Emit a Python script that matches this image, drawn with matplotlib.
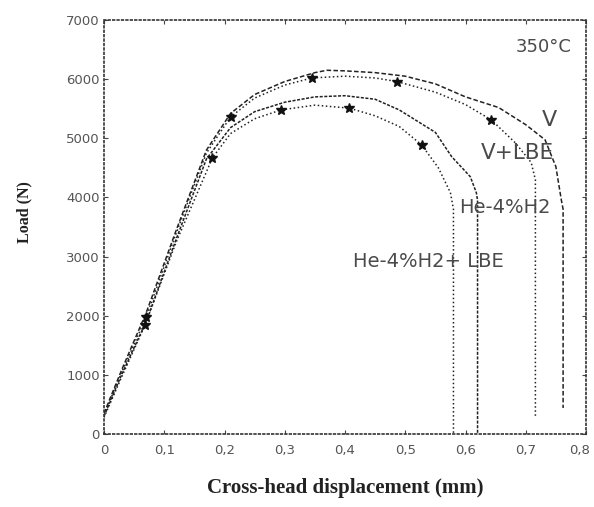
import matplotlib
matplotlib.use("Agg")
import matplotlib.pyplot as plt
import matplotlib.transforms as mtransforms

# ---- data ----
v_x = [0, 0.03, 0.07, 0.12, 0.17, 0.21, 0.25, 0.30, 0.35, 0.37, 0.40, 0.45, 0.50, 0.55, 0.60, 0.655, 0.70, 0.732, 0.750, 0.759, 0.762, 0.762]
v_y = [350, 1100, 2050, 3450, 4800, 5420, 5740, 5960, 6110, 6150, 6140, 6110, 6050, 5920, 5700, 5520, 5230, 4975, 4520, 3960, 3800, 440]

vl_x = [0, 0.03, 0.07, 0.12, 0.17, 0.21, 0.25, 0.30, 0.345, 0.40, 0.45, 0.486, 0.55, 0.60, 0.643, 0.683, 0.709, 0.716, 0.716]
vl_y = [320, 1060, 1980, 3400, 4750, 5360, 5680, 5900, 6020, 6050, 6020, 5960, 5780, 5570, 5310, 4920, 4590, 4300, 290]

he_x = [0, 0.03, 0.07, 0.12, 0.17, 0.21, 0.25, 0.30, 0.35, 0.40, 0.45, 0.49, 0.55, 0.577, 0.608, 0.618, 0.62, 0.62]
he_y = [300, 1020, 1900, 3300, 4650, 5180, 5450, 5610, 5700, 5720, 5660, 5480, 5100, 4690, 4350, 4080, 3950, 0]

hl_x = [0, 0.03, 0.068, 0.12, 0.18, 0.21, 0.25, 0.294, 0.35, 0.407, 0.45, 0.49, 0.527, 0.555, 0.575, 0.58, 0.58]
hl_y = [280, 980, 1840, 3250, 4670, 5080, 5330, 5480, 5560, 5510, 5380, 5200, 4890, 4500, 4080, 3800, 0]

vl_mx = [0.07, 0.21, 0.345, 0.486, 0.643]
vl_my = [1980, 5360, 6020, 5960, 5310]
hl_mx = [0.068, 0.18, 0.294, 0.407, 0.527]
hl_my = [1840, 4670, 5480, 5510, 4890]

x_ticks = [0, 0.1, 0.2, 0.3, 0.4, 0.5, 0.6, 0.7, 0.8]
x_labels = ["0", "0,1", "0,2", "0,3", "0,4", "0,5", "0,6", "0,7", "0,8"]
y_ticks = [0, 1000, 2000, 3000, 4000, 5000, 6000, 7000]
y_labels = ["0", "1000", "2000", "3000", "4000", "5000", "6000", "7000"]

fig = plt.figure(figsize=(5.94, 5.07), dpi=100)
ax = fig.add_axes([104/594, 73/507, 482/594, 414/507])

lc = "#222222"
ax.plot(v_x, v_y, color=lc, lw=1.1, ls=(0, (3, 1.5)))
ax.plot(vl_x, vl_y, color=lc, lw=1.1, ls=":")
ax.plot(he_x, he_y, color=lc, lw=1.1, ls=(0, (2, 1)))
ax.plot(hl_x, hl_y, color=lc, lw=1.1, ls=":")
ax.plot(vl_mx, vl_my, ls="none", marker="*", ms=7, color="#111111")
ax.plot(hl_mx, hl_my, ls="none", marker="*", ms=7, color="#111111")

ax.set_xlim(0, 0.8)
ax.set_ylim(0, 7000)
ax.set_xticks(x_ticks)
ax.set_xticklabels(x_labels)
ax.set_yticks(y_ticks)
ax.set_yticklabels(y_labels)
ax.tick_params(direction="in", top=True, right=True, length=3, labelsize=9.5,
               labelcolor="#555555", color="#444444")
ax.tick_params(axis="x", pad=7)
ax.tick_params(axis="y", pad=3)

# keep the last x tick label inside the figure
last = ax.get_xticklabels()[-1]
last.set_transform(last.get_transform() +
                   mtransforms.ScaledTranslation(-6/100, 0, fig.dpi_scale_trans))

for s in ax.spines.values():
    s.set_linestyle(":")
    s.set_linewidth(1.2)
    s.set_color("#333333")

tc = "#4a4a4a"
ax.text(0.729, 6550, "350°C", fontsize=13, color=tc, ha="center", va="center")
ax.text(0.740, 5310, "V", fontsize=16, color=tc, ha="center", va="center")
ax.text(0.686, 4750, "V+LBE", fontsize=15.5, color=tc, ha="center", va="center")
ax.text(0.666, 3830, "He-4%H2", fontsize=14, color=tc, ha="center", va="center")
ax.text(0.539, 2910, "He-4%H2+ LBE", fontsize=14, color=tc, ha="center", va="center")

fig.text(345/594, 1 - 488/507, "Cross-head displacement (mm)", ha="center", va="center",
         family="Liberation Serif", fontweight="bold", fontsize=15, color="#222222")
fig.text(24/594, 1 - 212/507, "Load (N)", ha="center", va="center", rotation=90,
         family="Liberation Serif", fontweight="bold", fontsize=11.5, color="#222222")

fig.savefig("out.png", dpi=100)
